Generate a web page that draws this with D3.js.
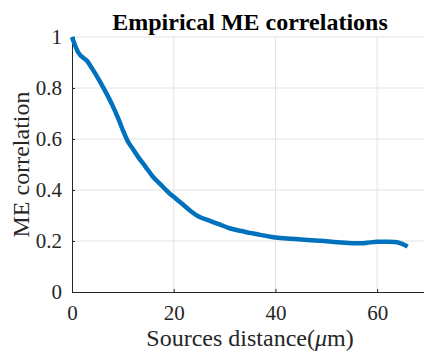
<!DOCTYPE html>
<html>
<head>
<meta charset="utf-8">
<script src="https://cdn.jsdelivr.net/npm/d3@7"></script>
<style>
  body { margin: 0; background: #fff; }
</style>
</head>
<body>
<div id="chart"></div>
<script>
// values
const distance = [0, 1.2, 3, 4, 5.5, 7, 8, 9, 10, 11, 12, 13, 14.5, 16, 17.5, 19, 20.5, 22, 23.5, 25, 27, 29, 31, 33, 35, 37, 39, 41, 43, 45, 47, 49, 51, 53, 55, 57, 58, 60, 62, 63.5, 64.8, 66];
const correlation = [1, 0.94, 0.905, 0.875, 0.825, 0.77, 0.73, 0.685, 0.635, 0.59, 0.56, 0.53, 0.49, 0.45, 0.42, 0.39, 0.365, 0.34, 0.315, 0.295, 0.28, 0.265, 0.25, 0.24, 0.232, 0.224, 0.217, 0.212, 0.209, 0.206, 0.203, 0.201, 0.197, 0.194, 0.191, 0.191, 0.193, 0.197, 0.197, 0.196, 0.19, 0.178];
const xTicks = [0, 20, 40, 60];
const yTicks = [0, 0.2, 0.4, 0.6, 0.8, 1];

const W = 424, H = 354;
const margin = {top: 37, left: 72, bottom: 62};
const serif = "Liberation Serif";

const svg = d3.select("#chart").append("svg")
  .attr("width", W).attr("height", H);

const x = d3.scaleLinear().domain([0, 70]).range([margin.left, 428]);
const y = d3.scaleLinear().domain([0, 1]).range([H - margin.bottom, margin.top]);

// grid
svg.append("g").selectAll("line").data(xTicks.slice(1)).join("line")
  .attr("x1", d => x(d)).attr("x2", d => x(d))
  .attr("y1", y(0)).attr("y2", y(1))
  .attr("stroke", "#e3e3e3").attr("stroke-width", 1);
svg.append("g").selectAll("line").data(yTicks.slice(1)).join("line")
  .attr("x1", x(0)).attr("x2", W)
  .attr("y1", d => y(d)).attr("y2", d => y(d))
  .attr("stroke", "#e3e3e3").attr("stroke-width", 1);

// axes
const xAxis = svg.append("g")
  .attr("transform", `translate(0,${y(0)})`)
  .call(d3.axisBottom(x).tickValues(xTicks).tickSizeInner(-3).tickSizeOuter(0).tickPadding(13));
const yAxis = svg.append("g")
  .attr("transform", `translate(${x(0)},0)`)
  .call(d3.axisLeft(y).tickValues(yTicks).tickFormat(d3.format("")).tickSizeInner(-3).tickSizeOuter(0).tickPadding(10));

[xAxis, yAxis].forEach(a => {
  a.attr("font-family", serif).attr("font-size", 21);
  a.select(".domain").attr("stroke", "#262626");
  a.selectAll(".tick line").attr("stroke", "#262626");
  a.selectAll("text")
    .attr("fill", "#262626")
    .style("font-family", serif)
    .style("font-size", "21px");
});

// the curve
const line = d3.line().x((d, i) => x(distance[i])).y(d => y(d)).curve(d3.curveMonotoneX);
svg.append("path")
  .datum(correlation)
  .attr("d", line)
  .attr("fill", "none")
  .attr("stroke", "#0072BD")
  .attr("stroke-width", 4.5)
  .attr("stroke-linejoin", "round");

// titles
svg.append("text")
  .attr("x", 250).attr("y", 30)
  .attr("text-anchor", "middle")
  .attr("font-family", serif)
  .attr("font-size", 24).attr("font-weight", "bold")
  .attr("fill", "#000")
  .text("Empirical ME correlations");

svg.append("text")
  .attr("x", 250).attr("y", 346)
  .attr("text-anchor", "middle")
  .attr("font-family", serif)
  .attr("font-size", 24)
  .attr("fill", "#262626")
  .html('Sources distance(<tspan font-style="italic">μ</tspan>m)');

svg.append("text")
  .attr("transform", `translate(29,${(y(0) + y(1)) / 2}) rotate(-90)`)
  .attr("text-anchor", "middle")
  .attr("font-family", serif)
  .attr("font-size", 24)
  .attr("fill", "#262626")
  .text("ME correlation");
</script>
</body>
</html>
